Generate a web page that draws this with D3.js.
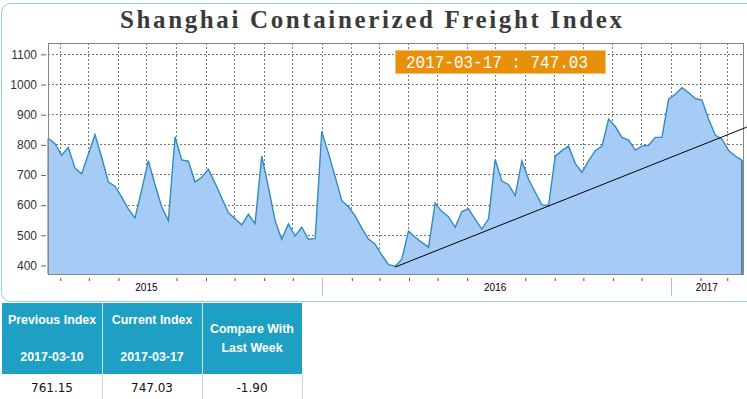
<!DOCTYPE html>
<html>
<head>
<meta charset="utf-8">
<script src="https://cdn.jsdelivr.net/npm/d3@7"></script>
<style>
body { margin: 0; background: #fff; }
svg { display: block; }
</style>
</head>
<body>
<script>
'use strict';

const title = "Shanghai Containerized Freight Index";
const firstWeek = "2015-03-20";
const lastWeek = "2017-03-17";

// weekly index, one value per Friday
const scfi = [
    820, 802, 764, 790, 721, 702, 767, 832, 757, 675,
    661, 625, 586, 556, 649, 746, 666, 593, 547, 825,
    748, 744, 675, 691, 717, 672, 622, 573, 553, 533,
    568, 537, 761, 658, 547, 485, 536, 496, 525, 485,
    487, 842, 770, 693, 613, 593, 563, 522, 486, 469,
    433, 401, 396, 419, 512, 492, 475, 459, 605, 577,
    560, 525, 577, 586, 551, 519, 553, 750, 678, 667,
    630, 745, 684, 641, 599, 597, 761, 779, 794, 737,
    707, 745, 779, 794, 883, 859, 823, 814, 781, 794,
    797, 823, 823, 950, 966, 988, 971, 952, 947, 883,
    831, 817, 779, 761.15, 747.03
];

const yTicks = [400, 500, 600, 700, 800, 900, 1000, 1100];
const trend = [["2016-03-18", 393], ["2017-03-22", 857]];
const latestLabel = "2017-03-17 : 747.03";

const headLabels = [["Previous Index"], ["Current Index"], ["Compare With", "Last Week"]];
const headDates = ["2017-03-10", "2017-03-17", ""];
const rowValues = ["761.15", "747.03", "-1.90"];

function createChart(width, height) {
    let parse = d3.timeParse("%Y-%m-%d");
    let weeks = d3.timeFriday.range(parse(firstWeek), d3.timeDay.offset(parse(lastWeek), 1));
    let data = weeks.map(function(d, i) { return {date: d, value: scfi[i]}; });

    let left = 48, right = 743, top = 43, bottom = 274;

    let svg = d3.create("svg")
        .attr("width", width)
        .attr("height", height);

    // outer box
    svg.append("rect")
        .attr("x", 1.5).attr("y", 3.5)
        .attr("width", width + 20).attr("height", 298)
        .attr("rx", 9)
        .attr("fill", "none")
        .attr("stroke", "#9ccbe0");

    svg.append("text")
        .attr("x", 371).attr("y", 28)
        .attr("text-anchor", "middle")
        .attr("textLength", 502)
        .attr("lengthAdjust", "spacing")
        .style("font-family", "'Liberation Serif', serif")
        .style("font-size", "25px")
        .style("font-weight", "bold")
        .attr("fill", "#3a3a3a")
        .text(title);

    let x = d3.scaleTime()
        .domain([weeks[0], weeks[weeks.length - 1]])
        .range([48.3, 742]);

    let y = d3.scaleLinear()
        .domain([370, 1136])
        .range([bottom, top]);

    let months = d3.timeMonth.range(d3.timeMonth.ceil(weeks[0]), weeks[weeks.length - 1]);

    //grid
    let grid = svg.append("g")
        .attr("stroke", "#777")
        .attr("stroke-dasharray", "2,2");
    grid.selectAll("line.h")
        .data(yTicks)
        .enter().append("line")
        .attr("x1", left).attr("x2", right)
        .attr("y1", function(d) { return Math.round(y(d)) + 0.5; })
        .attr("y2", function(d) { return Math.round(y(d)) + 0.5; });
    grid.selectAll("line.v")
        .data(months)
        .enter().append("line")
        .attr("y1", top).attr("y2", bottom)
        .attr("x1", function(d) { return Math.round(x(d)) + 0.5; })
        .attr("x2", function(d) { return Math.round(x(d)) + 0.5; });

    let area = d3.area()
        .x(function(d) { return x(d.date); })
        .y0(bottom)
        .y1(function(d) { return y(d.value); });

    let line = d3.line()
        .x(function(d) { return x(d.date); })
        .y(function(d) { return y(d.value); });

    svg.append("path")
        .datum(data)
        .attr("d", area)
        .attr("fill", "#a6cbf4");

    svg.append("path")
        .datum(data)
        .attr("d", line)
        .attr("fill", "none")
        .attr("stroke", "#2f8cc3")
        .attr("stroke-width", 1.4);

    // closing edges of the area
    svg.selectAll("line.edge")
        .data([data[0], data[data.length - 1]])
        .enter().append("line")
        .attr("x1", function(d) { return x(d.date); })
        .attr("x2", function(d) { return x(d.date); })
        .attr("y1", function(d) { return y(d.value); })
        .attr("y2", bottom)
        .attr("stroke", "#1f5f8e")
        .attr("stroke-width", 1.4);

    // plot frame
    svg.append("rect")
        .attr("x", left + 0.5).attr("y", top + 0.5)
        .attr("width", right - left).attr("height", bottom - top)
        .attr("fill", "none")
        .attr("stroke", "#888");

    // trend line
    svg.append("line")
        .attr("x1", x(parse(trend[0][0]))).attr("y1", y(trend[0][1]))
        .attr("x2", x(parse(trend[1][0]))).attr("y2", y(trend[1][1]))
        .attr("stroke", "#000")
        .attr("stroke-width", 1);

    //axis
    let yAxis = svg.append("g")
        .attr("transform", "translate(46,0.5)")
        .call(d3.axisLeft(y).tickValues(yTicks).tickFormat(d3.format("d")).tickSize(5).tickPadding(4));
    yAxis.select(".domain").remove();
    yAxis.selectAll("line").attr("stroke", "#666");
    yAxis.selectAll("text")
        .attr("fill", "#333")
        .style("font-family", "'Liberation Sans', Arial, sans-serif")
        .style("font-size", "12px");

    let xAxis = svg.append("g")
        .attr("transform", "translate(0.5,278)")
        .call(d3.axisBottom(x).tickValues(months.filter(function(d) {
            return d.getMonth() !== 0 && d.getMonth() !== 6;
        })).tickSize(3).tickFormat(""));
    xAxis.select(".domain").remove();
    xAxis.selectAll("line").attr("stroke", "#555");

    let yearStarts = months.filter(function(d) { return d.getMonth() === 0; });
    svg.selectAll("line.year")
        .data(yearStarts)
        .enter().append("line")
        .attr("x1", function(d) { return Math.round(x(d)) + 0.5; })
        .attr("x2", function(d) { return Math.round(x(d)) + 0.5; })
        .attr("y1", 278).attr("y2", 296)
        .attr("stroke", "#bbb");

    let years = d3.timeYear.range(d3.timeYear.floor(weeks[0]), weeks[weeks.length - 1]);
    svg.selectAll("text.year")
        .data(years)
        .enter().append("text")
        .attr("x", function(d) {
            let mid = new Date(d.getFullYear(), 6, 1);
            if (mid <= weeks[weeks.length - 1]) return x(mid);
            return (x(d) + right) / 2;
        })
        .attr("y", 291)
        .attr("text-anchor", "middle")
        .style("font-family", "'Liberation Sans', Arial, sans-serif")
        .style("font-size", "10px")
        .attr("fill", "#000")
        .text(function(d) { return d.getFullYear(); });

    // latest value badge
    svg.append("rect")
        .attr("x", 395.5).attr("y", 50.5)
        .attr("width", 210).attr("height", 23)
        .attr("fill", "#e8900a")
        .attr("stroke", "#f4c07a");
    svg.append("text")
        .attr("x", 406).attr("y", 68)
        .attr("textLength", 182)
        .attr("lengthAdjust", "spacingAndGlyphs")
        .style("font-family", "'Liberation Mono', monospace")
        .style("font-size", "19px")
        .attr("fill", "#fff")
        .text(latestLabel);

    // table
    let colX = [2, 102, 202, 302];
    let table = svg.append("g");
    table.append("rect")
        .attr("x", colX[0]).attr("y", 303)
        .attr("width", colX[3] - colX[0]).attr("height", 71)
        .attr("fill", "#1da0c4");
    table.append("rect")
        .attr("x", colX[0]).attr("y", 374)
        .attr("width", colX[3] - colX[0]).attr("height", 30)
        .attr("fill", "#fff");
    table.selectAll("line.col")
        .data([colX[1], colX[2]])
        .enter().append("line")
        .attr("x1", function(d) { return d + 0.5; })
        .attr("x2", function(d) { return d + 0.5; })
        .attr("y1", 303).attr("y2", 374)
        .attr("stroke", "#c8e4ee");
    table.selectAll("line.colrow")
        .data([colX[1], colX[2], colX[3]])
        .enter().append("line")
        .attr("x1", function(d) { return d + 0.5; })
        .attr("x2", function(d) { return d + 0.5; })
        .attr("y1", 374).attr("y2", 399)
        .attr("stroke", "#d4d4d4");

    let cells = table.selectAll("g.cell")
        .data(headLabels)
        .enter().append("g")
        .attr("transform", function(d, i) { return "translate(" + (colX[i] + colX[i + 1]) / 2 + ",0)"; });

    cells.each(function(d, i) {
        let g = d3.select(this);
        let ys = d.length > 1 ? [329, 347.5] : [320];
        d.forEach(function(s, k) {
            g.append("text").attr("y", ys[k]).text(s);
        });
        if (headDates[i]) g.append("text").attr("y", 357).text(headDates[i]);
        g.selectAll("text")
            .attr("text-anchor", "middle")
            .attr("dominant-baseline", "central")
            .attr("fill", "#fff")
            .style("font-family", "'Liberation Sans', Arial, sans-serif")
            .style("font-size", "12.4px")
            .style("font-weight", "bold");
        g.append("text")
            .attr("y", 387.5)
            .attr("text-anchor", "middle")
            .attr("dominant-baseline", "central")
            .attr("fill", "#111")
            .style("font-family", "'DejaVu Sans', Verdana, sans-serif")
            .style("font-size", "12px")
            .text(rowValues[i]);
    });

    d3.select("body").append(() => svg.node());
    return svg.node();
}

createChart(747, 399);
</script>
</body>
</html>
